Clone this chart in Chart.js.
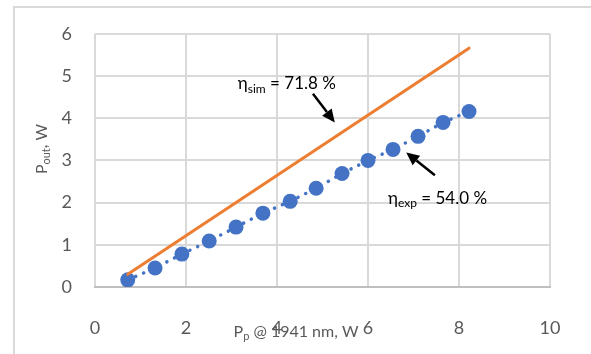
<!DOCTYPE html>
<html>
<head>
<meta charset="utf-8">
<script src="https://cdn.jsdelivr.net/npm/chart.js@4.4.1/dist/chart.umd.min.js"></script>
<style>
  html, body { margin: 0; padding: 0; background: #fff; }
  #wrap { width: 591px; height: 354px; position: relative; }
</style>
</head>
<body>
<div id="wrap"><canvas id="chart" width="591" height="354"></canvas></div>
<script>
// measured pump power (W) and output power (W)
const pumpExp = [0.72, 1.32, 1.91, 2.51, 3.10, 3.69, 4.29, 4.86, 5.43, 6.00, 6.55, 7.10, 7.65, 8.22];
const poutExp = [0.17, 0.45, 0.78, 1.09, 1.42, 1.75, 2.03, 2.34, 2.69, 3.00, 3.26, 3.57, 3.90, 4.16];
// simulated line
const pumpSim = [0.72, 8.22];
const poutSim = [0.30, 5.66];

const xTicks = [0, 2, 4, 6, 8, 10];
const yTicks = [0, 1, 2, 3, 4, 5, 6];

// labels drawn on the plot: [main, sub, rest, textX, textY, arrowFromX, arrowFromY, arrowToX, arrowToY]
const notes = [
  ["η", "sim", " = 71.8 %", 3.14, 4.82, 4.79, 4.58, 5.27, 3.90],
  ["η", "exp", " = 54.0 %", 6.44, 2.10, 7.47, 2.65, 6.84, 3.19]
];

const FONT = "Lato, 'Open Sans', sans-serif";
const GRAY = "#595959";

function drawSubText(ctx, x, y, main, sub, rest, size, color) {
  ctx.fillStyle = color;
  ctx.textBaseline = "middle";
  ctx.textAlign = "left";
  ctx.font = size + "px " + FONT;
  ctx.fillText(main, x, y);
  let w = ctx.measureText(main).width;
  ctx.font = Math.round(size * 0.7) + "px " + FONT;
  ctx.fillText(sub, x + w, y + size * 0.3);
  w += ctx.measureText(sub).width;
  ctx.font = size + "px " + FONT;
  ctx.fillText(rest, x + w, y);
  w += ctx.measureText(rest).width;
  return w;
}

function subWidth(ctx, main, sub, rest, size) {
  ctx.font = size + "px " + FONT;
  let w = ctx.measureText(main).width + ctx.measureText(rest).width;
  ctx.font = Math.round(size * 0.7) + "px " + FONT;
  return w + ctx.measureText(sub).width;
}

const extras = {
  id: "extras",
  beforeDraw(chart) {
    const ctx = chart.ctx;
    ctx.save();
    ctx.fillStyle = "#fff";
    ctx.fillRect(0, 0, chart.width, chart.height);
    ctx.strokeStyle = "#d9d9d9";
    ctx.lineWidth = 2;
    ctx.strokeRect(14, 7, chart.width, chart.height);
    ctx.restore();
  },
  afterDraw(chart) {
    const ctx = chart.ctx;
    const xs = chart.scales.x, ys = chart.scales.y;
    ctx.save();
    notes.forEach(n => {
      drawSubText(ctx, xs.getPixelForValue(n[3]), ys.getPixelForValue(n[4]), n[0], n[1], n[2], 17, "#000");
      const x1 = xs.getPixelForValue(n[5]), y1 = ys.getPixelForValue(n[6]);
      const x2 = xs.getPixelForValue(n[7]), y2 = ys.getPixelForValue(n[8]);
      const a = Math.atan2(y2 - y1, x2 - x1);
      const hl = 13, hw = 6;
      const bx = x2 - hl * Math.cos(a), by = y2 - hl * Math.sin(a);
      ctx.strokeStyle = "#000";
      ctx.lineWidth = 2.5;
      ctx.beginPath();
      ctx.moveTo(x1, y1);
      ctx.lineTo(bx, by);
      ctx.stroke();
      ctx.fillStyle = "#000";
      ctx.beginPath();
      ctx.moveTo(x2, y2);
      ctx.lineTo(bx + hw * Math.sin(a), by - hw * Math.cos(a));
      ctx.lineTo(bx - hw * Math.sin(a), by + hw * Math.cos(a));
      ctx.closePath();
      ctx.fill();
    });

    // x axis title
    const xw = subWidth(ctx, "P", "p", " @ 1941 nm, W", 16);
    drawSubText(ctx, 296 - xw / 2, 332, "P", "p", " @ 1941 nm, W", 16, GRAY);

    // y axis title
    ctx.translate(42, 149);
    ctx.rotate(-Math.PI / 2);
    const yw = subWidth(ctx, "P", "out", ", W", 16);
    drawSubText(ctx, -yw / 2, 0, "P", "out", ", W", 16, GRAY);
    ctx.restore();
  }
};

new Chart(document.getElementById("chart"), {
  type: "scatter",
  data: {
    datasets: [
      {
        label: "sim",
        data: pumpSim.map((x, i) => ({ x, y: poutSim[i] })),
        showLine: true,
        borderColor: "#ED7D31",
        borderWidth: 3,
        pointRadius: 0,
        borderCapStyle: "round"
      },
      {
        label: "exp",
        data: pumpExp.map((x, i) => ({ x, y: poutExp[i] })),
        showLine: true,
        borderColor: "#4472C4",
        borderWidth: 3.5,
        borderDash: [0.1, 8.5],
        borderCapStyle: "round",
        backgroundColor: "#4472C4",
        pointRadius: 7.5,
        pointBorderWidth: 0
      }
    ]
  },
  options: {
    responsive: false,
    animation: false,
    layout: { padding: { left: 0, top: 33, right: 41, bottom: 0 } },
    plugins: {
      legend: { display: false },
      tooltip: { enabled: false }
    },
    scales: {
      x: {
        type: "linear",
        min: 0, max: 10,
        afterFit(s) { s.height = 67; },
        afterBuildTicks(s) { s.ticks = xTicks.map(v => ({ value: v })); },
        grid: { color: "#d9d9d9", lineWidth: 2, drawTicks: false },
        border: { color: "#bfbfbf", width: 2 },
        ticks: { color: GRAY, font: { family: FONT, size: 18 }, padding: 30 }
      },
      y: {
        type: "linear",
        min: 0, max: 6,
        afterFit(s) { s.width = 95; },
        afterBuildTicks(s) { s.ticks = yTicks.map(v => ({ value: v })); },
        grid: { color: "#d9d9d9", lineWidth: 2, drawTicks: false },
        border: { display: false },
        ticks: { color: GRAY, font: { family: FONT, size: 18 }, padding: 23 }
      }
    }
  },
  plugins: [extras]
});
</script>
</body>
</html>
